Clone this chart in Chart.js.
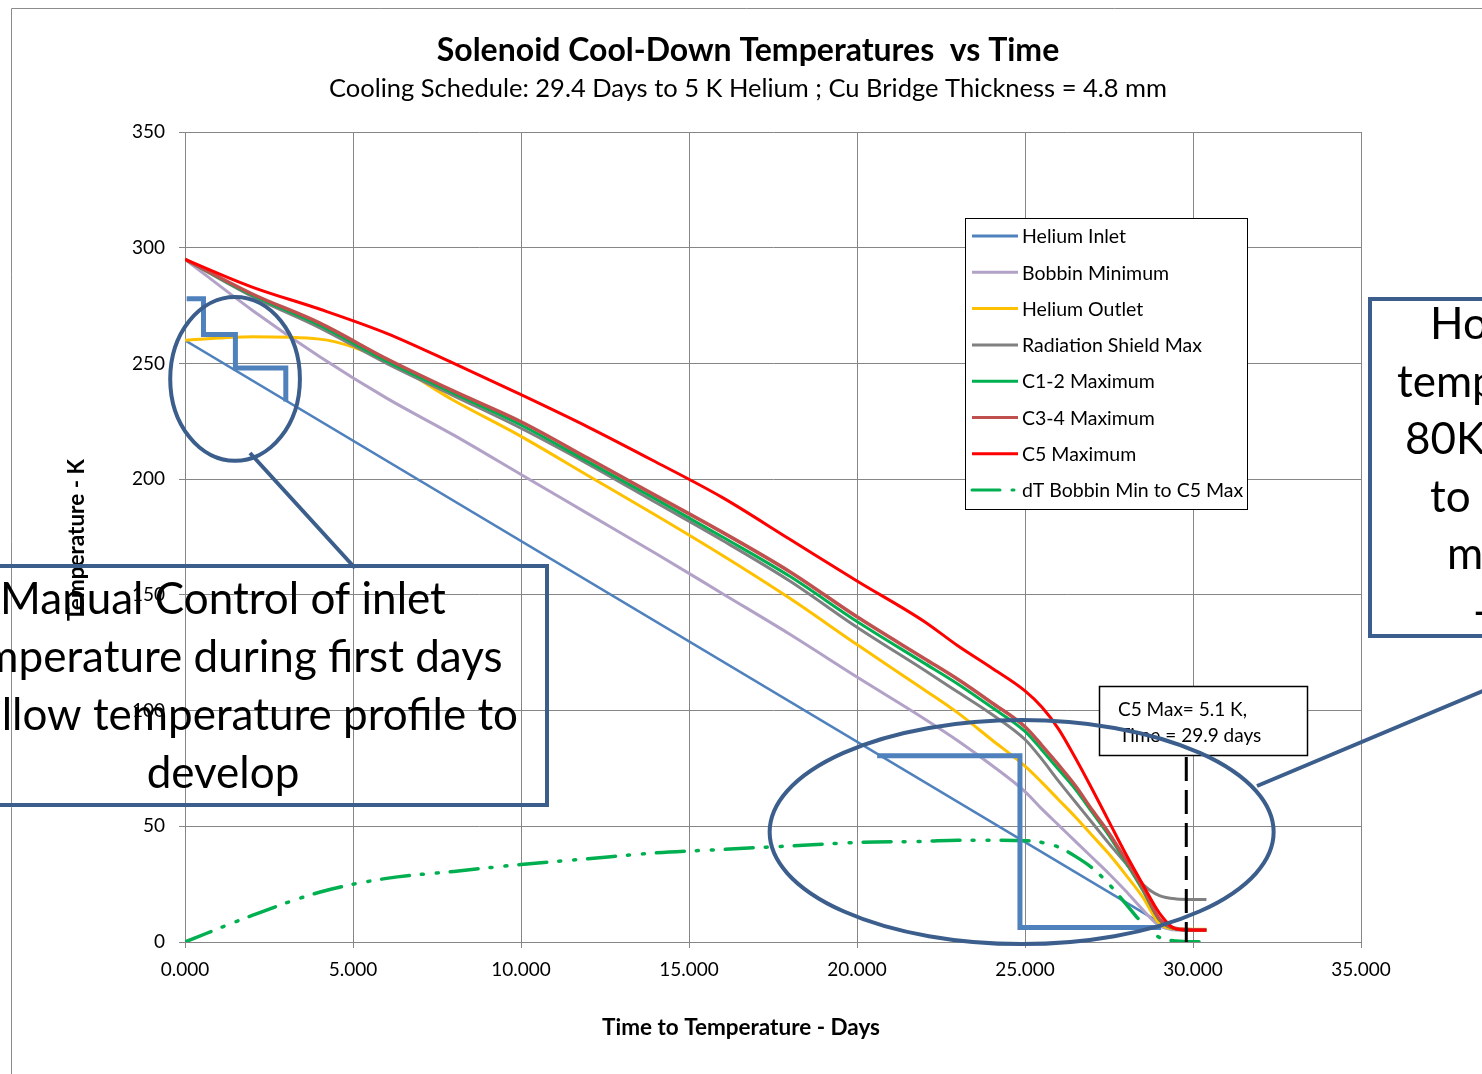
<!DOCTYPE html>
<html>
<head>
<meta charset="utf-8">
<title>Solenoid Cool-Down Temperatures vs Time</title>
<script src="https://cdn.jsdelivr.net/npm/chart.js@4.4.1/dist/chart.umd.min.js"></script>
<style>
  html, body { margin: 0; padding: 0; background: #fff; }
  #wrap { position: relative; width: 1482px; height: 1074px; }
</style>
</head>
<body>
<div id="wrap"><canvas id="coolDownChart"></canvas></div>
<script>
// time grid in days, shared by the simulated curves
const days = [0, 2, 4, 6, 8, 10, 12, 14, 16, 18, 20, 22, 23, 24, 25, 25.5, 26, 26.5, 27, 27.5, 28, 28.5, 29, 29.5, 30, 30.4];

// temperatures in K
const bobbinMin   = [295, 273, 253, 235, 219, 202, 185, 168, 150.5, 133, 114.5, 96.5, 87, 76.5, 65, 57.5, 50.5, 43.5, 36.5, 29.5, 22, 14, 7, 5.2, 5, 5];
const heliumOut   = [260, 261.5, 260.5, 251, 234, 218.5, 201.5, 184.5, 167, 148.5, 128.5, 109, 99, 87.5, 76, 69, 61.5, 54, 46, 38, 29, 19.5, 8, 5.7, 5.5, 5.5];
const shieldMax   = [295, 279, 265.5, 250, 236, 222, 206.5, 190, 173.5, 156, 136, 117.5, 108, 98.5, 87.5, 79, 69.5, 60.5, 51.5, 42.5, 34, 25, 20, 18.6, 18.4, 18.4];
const c12Max      = [295, 279.5, 266.5, 251, 237, 223.4, 207.5, 191.5, 175, 158, 138.5, 120.5, 111.5, 101.5, 91, 83, 74.5, 66, 56, 46, 34.5, 22.5, 9.5, 5.6, 5.2, 5.2];
const c34Max      = [295, 280, 267.5, 252, 238, 224.8, 209, 193, 177, 160, 140.5, 122.5, 113.5, 103.5, 93, 85, 76.5, 67.5, 57, 47, 35.5, 23.5, 10, 5.8, 5.3, 5.3];
const c5Max       = [295, 283, 273.5, 263, 250, 236.5, 222.5, 207.5, 192, 174, 156, 138.5, 128, 118.5, 108.5, 101.5, 92, 79.5, 66, 52, 38, 25, 12.5, 5.6, 5.1, 5.1];
const dTBobbinC5  = [0, 11.5, 21.5, 27.5, 30.5, 33.5, 36, 38.5, 40, 41.5, 43, 43.5, 44, 44, 43.8, 43, 41, 37, 32, 25, 16.5, 8, 2, 0.4, 0.1, 0.1];

// helium inlet is a straight ramp
const inletDays  = [0, 29.4];
const inletTemps = [260, 5];

// hand-drawn inlet control steps
const leftStepDays   = [0.05, 0.55, 0.55, 1.5, 1.5, 3.0, 3.0];
const leftStepTemps  = [278, 278, 262.5, 262.5, 248, 248, 233.5];
const rightStepDays  = [20.6, 24.85, 24.85, 29.05];
const rightStepTemps = [80.5, 80.5, 6.3, 6.3];

const FONT = 'Lato, "Open Sans", sans-serif';
const DT_DASH = [28, 12, 2, 13, 2, 12];

const series = [
    { label: 'Helium Inlet', x: inletDays, y: inletTemps, color: '#4F81BD', width: 2.5 },
    { label: 'Bobbin Minimum', x: days, y: bobbinMin, color: '#B3A2C7', width: 3 },
    { label: 'Helium Outlet', x: days, y: heliumOut, color: '#FFC000', width: 3 },
    { label: 'Radiation Shield Max', x: days, y: shieldMax, color: '#808080', width: 3 },
    { label: 'C1-2 Maximum', x: days, y: c12Max, color: '#00B050', width: 3 },
    { label: 'C3-4 Maximum', x: days, y: c34Max, color: '#C0504D', width: 3.5 },
    { label: 'C5 Maximum', x: days, y: c5Max, color: '#FF0000', width: 3 },
    { label: 'dT Bobbin Min to C5 Max', x: days, y: dTBobbinC5, color: '#00B050', width: 3.5, dash: DT_DASH },
];

function toPoints(xs, ys) {
    return xs.map((d, i) => ({ x: d, y: ys[i] }));
}

const datasets = series.map((s, i) => ({
    label: s.label,
    data: toPoints(s.x, s.y),
    borderColor: s.color,
    borderWidth: s.width,
    borderDash: s.dash || [],
    borderCapStyle: s.dash ? 'round' : 'butt',
    pointRadius: 0,
    fill: false,
    cubicInterpolationMode: 'monotone',
    order: series.length - i + 2,   // later series on top, like excel
}));

// step annotations go on top of everything
[[leftStepDays, leftStepTemps], [rightStepDays, rightStepTemps]].forEach(([xs, ys]) => {
    datasets.push({
        label: 'step',
        data: toPoints(xs, ys),
        borderColor: '#4F81BD',
        borderWidth: 5,
        pointRadius: 0,
        fill: false,
        tension: 0,
        order: 0,
    });
});

const CALLOUT = '#3B5E8C';

function ellipseAt(ctx, xs, ys, cx, cy, rx, ry) {
    const px = xs.getPixelForValue(cx), py = ys.getPixelForValue(cy);
    const rpx = Math.abs(xs.getPixelForValue(cx + rx) - px);
    const rpy = Math.abs(ys.getPixelForValue(cy + ry) - py);
    ctx.beginPath();
    ctx.ellipse(px, py, rpx, rpy, 0, 0, Math.PI * 2);
    ctx.stroke();
}

const extras = {
    id: 'coolDownExtras',
    beforeDraw(chart) {
        const ctx = chart.ctx;
        ctx.save();
        ctx.fillStyle = '#fff';
        ctx.fillRect(0, 0, chart.width, chart.height);
        // outer chart frame (cropped)
        ctx.strokeStyle = '#8c8c8c';
        ctx.lineWidth = 1;
        ctx.beginPath();
        ctx.moveTo(11.5, chart.height);
        ctx.lineTo(11.5, 8.5);
        ctx.lineTo(chart.width, 8.5);
        ctx.stroke();
        ctx.restore();
    },
    afterDraw(chart) {
        const ctx = chart.ctx;
        const xs = chart.scales.x, ys = chart.scales.y;
        const area = chart.chartArea;
        ctx.save();

        // titles
        ctx.fillStyle = '#000';
        ctx.textAlign = 'center';
        ctx.textBaseline = 'middle';
        ctx.font = 'bold 32px ' + FONT;
        ctx.fillText('Solenoid Cool-Down Temperatures  vs Time', 748, 51);
        ctx.font = '25.5px ' + FONT;
        ctx.fillText('Cooling Schedule: 29.4 Days to 5 K Helium ; Cu Bridge Thickness = 4.8 mm', 748, 89);

        // axis titles
        ctx.font = 'bold 22.5px ' + FONT;
        ctx.fillText('Time to Temperature - Days', 741, 1028);
        ctx.save();
        ctx.translate(77, 540);
        ctx.rotate(-Math.PI / 2);
        ctx.fillText('Temperature - K', 0, 0);
        ctx.restore();

        // legend
        const lx = 965, ly = 218, lw = 282, lh = 291;
        ctx.fillStyle = '#fff';
        ctx.fillRect(lx, ly, lw, lh);
        ctx.strokeStyle = '#000';
        ctx.lineWidth = 1;
        ctx.strokeRect(lx + 0.5, ly + 0.5, lw, lh);
        ctx.textAlign = 'left';
        ctx.font = '19.5px ' + FONT;
        series.forEach((s, i) => {
            const y = 236 + i * 36.3;
            ctx.strokeStyle = s.color;
            ctx.lineWidth = 3;
            ctx.setLineDash(s.dash || []);
            ctx.lineCap = s.dash ? 'round' : 'butt';
            ctx.beginPath();
            ctx.moveTo(972, y);
            ctx.lineTo(1018, y);
            ctx.stroke();
            ctx.setLineDash([]);
            ctx.fillStyle = '#000';
            ctx.fillText(s.label, 1022, y + 1);
        });
        ctx.lineCap = 'butt';

        // C5 minimum marker
        const markX = xs.getPixelForValue(29.8);
        ctx.strokeStyle = '#000';
        ctx.lineWidth = 3;
        ctx.setLineDash([24, 9]);
        ctx.beginPath();
        ctx.moveTo(markX, 757);
        ctx.lineTo(markX, area.bottom);
        ctx.stroke();
        ctx.setLineDash([]);
        ctx.fillStyle = '#fff';
        ctx.fillRect(1099, 686, 208, 69);
        ctx.lineWidth = 1.5;
        ctx.strokeRect(1099.5, 686.5, 208, 69);
        ctx.fillStyle = '#000';
        ctx.font = '19px ' + FONT;
        ctx.fillText('C5 Max= 5.1 K,', 1118, 710);
        ctx.fillText('Time = 29.9 days', 1119, 736);

        // ellipses + callouts
        ctx.strokeStyle = CALLOUT;
        ctx.lineWidth = 4;
        ellipseAt(ctx, xs, ys, 1.49, 243.3, 1.93, 35.4);
        ellipseAt(ctx, xs, ys, 24.9, 47.5, 7.5, 48.4);

        ctx.beginPath();
        ctx.moveTo(250, 453);
        ctx.lineTo(355, 568);
        ctx.moveTo(1257, 786);
        ctx.lineTo(1490, 688);
        ctx.stroke();

        ctx.strokeRect(-110, 566, 657, 239);
        ctx.strokeRect(1370, 299, 200, 337);

        ctx.fillStyle = '#000';
        ctx.font = '44px ' + FONT;
        ctx.textAlign = 'center';
        const leftLines = ['Manual Control of inlet', 'temperature during first days', 'to allow temperature profile to', 'develop'];
        leftLines.forEach((t, i) => ctx.fillText(t, 223, 600 + i * 58));

        ctx.textAlign = 'left';
        const rightLines = [['Hold', 1430], ['temperature', 1397], ['80K then', 1405], ['to 5 K', 1430], ['max', 1447], ['-', 1473]];
        rightLines.forEach(([t, x], i) => ctx.fillText(t, x, 325 + i * 57.5));

        ctx.restore();
    }
};

const gridStyle = { color: '#868686', lineWidth: 1, tickLength: 6 };
const tickFont = { family: FONT, size: 19 };

new Chart(document.getElementById('coolDownChart').getContext('2d'), {
    type: 'line',
    data: { datasets: datasets },
    options: {
        responsive: true,
        maintainAspectRatio: false,
        animation: false,
        layout: { padding: { left: 0, right: 121, top: 132, bottom: 0 } },
        plugins: {
            legend: { display: false },
            tooltip: { enabled: false },
        },
        scales: {
            x: {
                type: 'linear',
                min: 0,
                max: 35,
                afterFit: (scale) => { scale.height = 132 },
                ticks: {
                    stepSize: 5,
                    color: '#000',
                    font: tickFont,
                    padding: 10,
                    maxRotation: 0,
                    callback: (v) => v.toFixed(3),
                },
                grid: gridStyle,
                border: { color: '#868686' },
            },
            y: {
                type: 'linear',
                min: 0,
                max: 350,
                afterFit: (scale) => { scale.width = 185 },
                ticks: {
                    stepSize: 50,
                    color: '#000',
                    font: tickFont,
                    padding: 14,
                },
                grid: gridStyle,
                border: { color: '#868686' },
            },
        },
    },
    plugins: [extras],
});
</script>
</body>
</html>
